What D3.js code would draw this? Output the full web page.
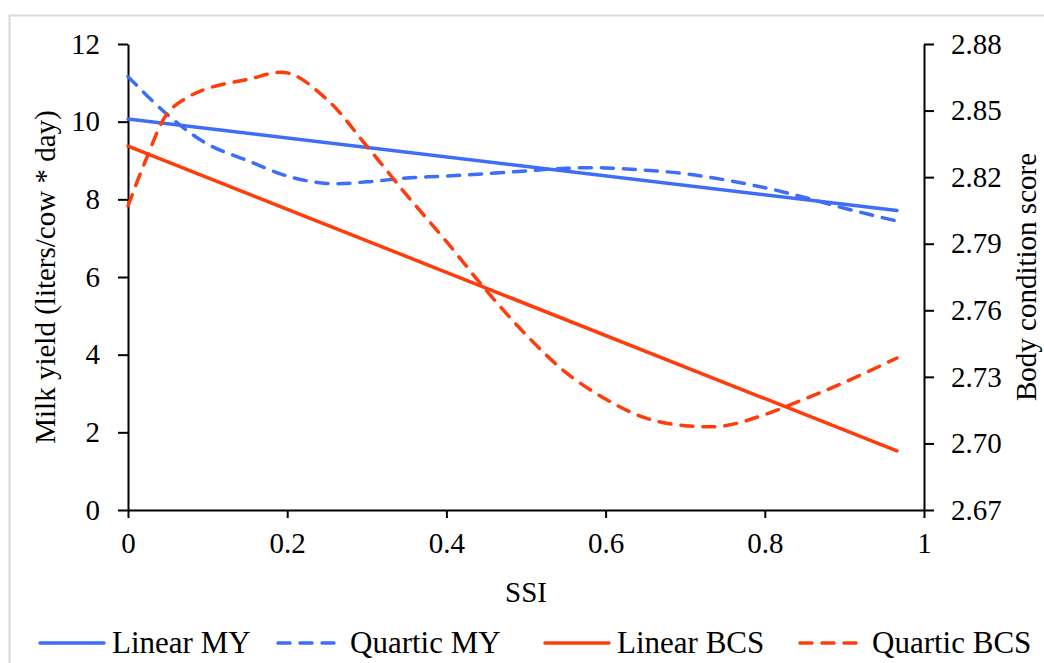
<!DOCTYPE html>
<html>
<head>
<meta charset="utf-8">
<script src="https://cdn.jsdelivr.net/npm/d3@7"></script>
<style>
    body { margin: 0; background: #fff; }
    svg { display: block; }
    svg text { font-family: "Liberation Serif", "Times New Roman", "DejaVu Serif", serif; fill: #000; }
</style>
</head>
<body>
<div id="chart"></div>
<script>
const ssiQuarticMY = [0, 0.05, 0.10, 0.15, 0.20, 0.25, 0.30, 0.35, 0.40, 0.45, 0.50, 0.55, 0.60, 0.65, 0.70, 0.75, 0.80, 0.85, 0.90, 0.966];
const quarticMY    = [11.16, 10.17, 9.42, 9.00, 8.60, 8.41, 8.45, 8.55, 8.60, 8.66, 8.73, 8.80, 8.81, 8.75, 8.66, 8.50, 8.30, 8.05, 7.77, 7.44];

const ssiQuarticBCS = [0, 0.025, 0.05, 0.075, 0.10, 0.15, 0.20, 0.25, 0.30, 0.35, 0.40, 0.45, 0.50, 0.55, 0.60, 0.65, 0.70, 0.75, 0.80, 0.85, 0.90, 0.966];
const quarticBCS    = [2.807, 2.830, 2.849, 2.856, 2.860, 2.864, 2.867, 2.855, 2.834, 2.812, 2.791, 2.769, 2.749, 2.732, 2.720, 2.7115, 2.708, 2.708, 2.713, 2.720, 2.7275, 2.7385];

const ssiLinear = [0, 0.966];
const linearMY  = [10.07, 7.71];
const linearBCS = [2.834, 2.6966];

const xTicks = [0, 0.2, 0.4, 0.6, 0.8, 1];
const myTicks = [0, 2, 4, 6, 8, 10, 12];
const bcsTicks = [2.67, 2.70, 2.73, 2.76, 2.79, 2.82, 2.85, 2.88];

const legendNames = ['Linear MY', 'Quartic MY', 'Linear BCS', 'Quartic BCS'];

const blue = '#3d6ef5';
const red = '#ff3c0c';

const W = 1044, H = 663;
const margin = {top: 44, right: 120, bottom: 153, left: 128};
const width = W - margin.left - margin.right;
const height = H - margin.top - margin.bottom;

const svg = d3.select('#chart')
    .append('svg')
    .attr('width', W)
    .attr('height', H);

// chart frame (runs off the right and bottom of the picture)
svg.append('rect')
    .attr('x', 9.5)
    .attr('y', 15.5)
    .attr('width', W + 20)
    .attr('height', H + 20)
    .attr('fill', 'none')
    .attr('stroke', '#d9d9d9')
    .attr('stroke-width', 2);

const g = svg.append('g')
    .attr('transform', `translate(${margin.left},${margin.top})`);

const x = d3.scaleLinear().domain([0, 1]).range([0, width]);
const yL = d3.scaleLinear().domain([0, 12]).range([height, 0]);
const yR = d3.scaleLinear().domain([2.67, 2.88]).range([height, 0]);

const tickFont = '29px';

// axes
const xAxis = g.append('g')
    .attr('transform', `translate(0,${height})`)
    .call(d3.axisBottom(x).tickValues(xTicks).tickFormat(d => d3.format('')(d))
        .tickSizeInner(8).tickSizeOuter(0).tickPadding(14));

const leftAxis = g.append('g')
    .call(d3.axisLeft(yL).tickValues(myTicks).tickFormat(d3.format('d'))
        .tickSizeInner(10).tickSizeOuter(0).tickPadding(18));

const rightAxis = g.append('g')
    .attr('transform', `translate(${width},0)`)
    .call(d3.axisRight(yR).tickValues(bcsTicks).tickFormat(d3.format('.2f'))
        .tickSizeInner(10).tickSizeOuter(0).tickPadding(17));

[xAxis, leftAxis, rightAxis].forEach(a => {
    a.attr('font-family', null);
    a.selectAll('path, line').attr('stroke', '#000').attr('stroke-width', 2);
    a.selectAll('text')
        .attr('fill', '#000')
        .style('font-size', tickFont);
});

// series
const lineL = d3.line().x(d => x(d[0])).y(d => yL(d[1]));
const lineR = d3.line().x(d => x(d[0])).y(d => yR(d[1]));
const curveL = d3.line().x(d => x(d[0])).y(d => yL(d[1])).curve(d3.curveCatmullRom);
const curveR = d3.line().x(d => x(d[0])).y(d => yR(d[1])).curve(d3.curveCatmullRom);

const series = [
    {name: 'Linear MY', color: blue, dash: null, d: lineL(d3.zip(ssiLinear, linearMY))},
    {name: 'Quartic MY', color: blue, dash: '12,10', d: curveL(d3.zip(ssiQuarticMY, quarticMY))},
    {name: 'Linear BCS', color: red, dash: null, d: lineR(d3.zip(ssiLinear, linearBCS))},
    {name: 'Quartic BCS', color: red, dash: '12,10', d: curveR(d3.zip(ssiQuarticBCS, quarticBCS))}
];

g.selectAll('.series')
    .data(series)
    .enter().append('path')
    .attr('class', 'series')
    .attr('d', s => s.d)
    .attr('fill', 'none')
    .attr('stroke', s => s.color)
    .attr('stroke-width', 3.5)
    .attr('stroke-linecap', 'round')
    .attr('stroke-dasharray', s => s.dash);

// axis titles
svg.append('text')
    .attr('transform', `translate(55,${margin.top + height / 2}) rotate(-90)`)
    .attr('text-anchor', 'middle')
    .style('font-size', '29px')
    .text('Milk yield (liters/cow * day)');

svg.append('text')
    .attr('transform', `translate(1036,${margin.top + height / 2}) rotate(-90)`)
    .attr('text-anchor', 'middle')
    .style('font-size', '29px')
    .text('Body condition score');

svg.append('text')
    .attr('x', margin.left + width / 2)
    .attr('y', 602)
    .attr('text-anchor', 'middle')
    .style('font-size', '29px')
    .text('SSI');

// legend
const legendX = [38, 276, 543, 798];
const legend = svg.append('g')
    .selectAll('g')
    .data(series)
    .enter().append('g')
    .attr('transform', (s, i) => `translate(${legendX[i]},643)`);

legend.append('line')
    .attr('x1', 2).attr('x2', 66)
    .attr('y1', 0).attr('y2', 0)
    .attr('stroke', s => s.color)
    .attr('stroke-width', 3.5)
    .attr('stroke-linecap', 'round')
    .attr('stroke-dasharray', s => s.dash);

legend.append('text')
    .attr('x', 74)
    .attr('y', 10)
    .style('font-size', '31px')
    .text((s, i) => legendNames[i]);
</script>
</body>
</html>
